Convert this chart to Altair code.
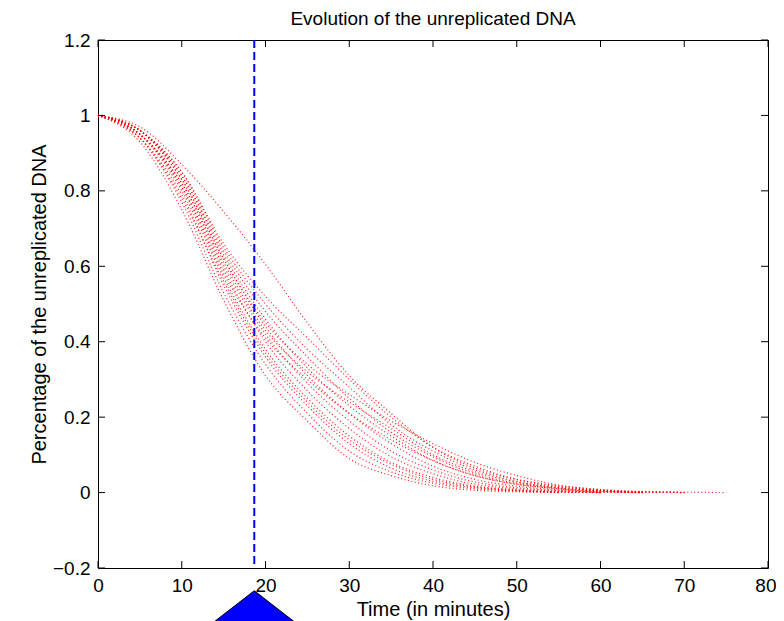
import altair as alt
import pandas as pd

# ---- data ----
TIMES = [0, 5, 10, 15, 20, 25, 30, 35, 40, 45, 50, 55, 60, 65, 70, 75]
C1 = [1, 0.93, 0.75, 0.51, 0.31, 0.19, 0.09, 0.045, 0.018, 0.006, 0.002, 0]
C2 = [1, 0.94, 0.77, 0.53, 0.34, 0.21, 0.11, 0.055, 0.025, 0.01, 0.004, 0.001, 0]
C3 = [1, 0.94, 0.79, 0.55, 0.36, 0.23, 0.13, 0.065, 0.03, 0.013, 0.005, 0.002, 0]
C4 = [1, 0.95, 0.80, 0.57, 0.38, 0.25, 0.15, 0.08, 0.04, 0.017, 0.007, 0.002, 0]
C5 = [1, 0.95, 0.81, 0.59, 0.40, 0.27, 0.17, 0.095, 0.05, 0.022, 0.01, 0.004, 0.001, 0]
C6 = [1, 0.95, 0.82, 0.60, 0.42, 0.29, 0.19, 0.11, 0.06, 0.028, 0.013, 0.005, 0.002, 0]
C7 = [1, 0.96, 0.83, 0.62, 0.44, 0.31, 0.21, 0.13, 0.07, 0.035, 0.017, 0.007, 0.003, 0.001, 0]
C8 = [1, 0.96, 0.84, 0.63, 0.46, 0.33, 0.23, 0.15, 0.085, 0.045, 0.022, 0.01, 0.004, 0.002, 0.001, 0]
C9 = [1, 0.96, 0.84, 0.64, 0.48, 0.36, 0.25, 0.16, 0.095, 0.05, 0.025, 0.012, 0.005, 0]
C10 = [1, 0.96, 0.85, 0.65, 0.50, 0.38, 0.28, 0.18, 0.11, 0.06, 0.03, 0.014, 0.006, 0.002, 0]
C11 = [1, 0.97, 0.87, 0.745, 0.605, 0.45, 0.31, 0.21, 0.12, 0.065, 0.035, 0.018, 0.008, 0]
C12 = [1, 0.96, 0.85, 0.66, 0.52, 0.41, 0.30, 0.20, 0.12, 0.07, 0.035, 0.016, 0.006, 0]
C13 = [1, 0.95, 0.81, 0.58, 0.41, 0.30, 0.21, 0.14, 0.085, 0.045, 0.022, 0.01, 0]
C14 = [1, 0.94, 0.78, 0.56, 0.37, 0.24, 0.14, 0.075, 0.035, 0.015, 0.006, 0]
C15 = [1, 0.95, 0.82, 0.61, 0.43, 0.32, 0.24, 0.17, 0.10, 0.055, 0.028, 0.012, 0.004, 0]
C16 = [1, 0.96, 0.83, 0.62, 0.45, 0.34, 0.26, 0.19, 0.13, 0.08, 0.045, 0.02, 0.008, 0.003, 0]
CURVES = [C1, C2, C3, C4, C5, C6, C7, C8, C9, C10, C11, C12, C13, C14, C15, C16]

X_TICKS = [0, 10, 20, 30, 40, 50, 60, 70, 80]
Y_TICKS = [-0.2, 0, 0.2, 0.4, 0.6, 0.8, 1, 1.2]
MARKER_TIME = [18.66]
MARKER_LEVEL = [-0.2602]

TITLE = "Evolution of the unreplicated DNA"
XTITLE = "Time (in minutes)"
YTITLE = "Percentage of the unreplicated DNA"

FONT = "Liberation Sans"

rows = []
for i, c in enumerate(CURVES):
    for t, v in zip(TIMES, c):
        rows.append({"run": i, "t": t, "v": v})
df = pd.DataFrame(rows)

xs = alt.Scale(domain=[0, 80], nice=False, zero=False)
ys = alt.Scale(domain=[-0.2, 1.2], nice=False, zero=False)

W, H = 670, 528

XAX = alt.Axis(
    values=X_TICKS, format="d", ticks=False, domain=False, grid=False,
    labelFont=FONT, labelFontSize=19, labelColor="black", labelPadding=8,
    labelFlush=False,
    labelAlign={"condition": {"test": "datum.value == 80", "value": "right"},
                "value": "center"},
    labelOffset={"condition": {"test": "datum.value == 80", "value": 8},
                 "value": 0},
    title=XTITLE, titleFont=FONT, titleFontSize=20, titleFontWeight="normal",
    titleColor="black", titleX=W / 2, titleY=47, titleBaseline="alphabetic",
    titleAlign="center")
YAX = alt.Axis(
    values=Y_TICKS, format="~g", ticks=False, domain=False, grid=False,
    labelFont=FONT, labelFontSize=19, labelColor="black", labelPadding=8,
    labelFlush=False,
    title=YTITLE, titleFont=FONT, titleFontSize=20, titleFontWeight="normal",
    titleColor="black", titleX=-59, titleY=H / 2, titleAngle=270,
    titleBaseline="middle", titleAlign="center")


def X(f="t"):
    return alt.X(f + ":Q", scale=xs, axis=XAX)


def Y(f="v"):
    return alt.Y(f + ":Q", scale=ys, axis=YAX)


lines = alt.Chart(df).mark_line(
    color="#ff0000", strokeWidth=1.2, strokeDash=[1, 2.5], opacity=0.9,
    interpolate="monotone"
).encode(x=X(), y=Y(), detail="run:N")

xt = pd.DataFrame({"t": X_TICKS})
yt = pd.DataFrame({"v": Y_TICKS})

xtick_b = alt.Chart(xt).mark_rule(color="black", strokeWidth=1).encode(
    x=X(), y=alt.value(H), y2=alt.value(H - 7))
xtick_t = alt.Chart(xt).mark_rule(color="black", strokeWidth=1).encode(
    x=X(), y=alt.value(0), y2=alt.value(7))
ytick_l = alt.Chart(yt).mark_rule(color="black", strokeWidth=1).encode(
    y=Y(), x=alt.value(0), x2=alt.value(7))
ytick_r = alt.Chart(yt).mark_rule(color="black", strokeWidth=1).encode(
    y=Y(), x=alt.value(W), x2=alt.value(W - 7))

mk = pd.DataFrame({"t": MARKER_TIME, "v": MARKER_LEVEL})
vline = alt.Chart(mk).mark_rule(color="#0000ff", strokeWidth=2, strokeDash=[8, 4]).encode(
    x=X())
tri = alt.Chart(mk).mark_point(
    shape="M0,0L-1.29,1L1.29,1Z", size=6400, filled=True, fill="#0000ff",
    stroke="black", strokeWidth=1, opacity=1, clip=False
).encode(x=X(), y=Y())

chart = alt.layer(lines, vline, xtick_b, xtick_t, ytick_l, ytick_r, tri).properties(
    width=W, height=H,
    title=alt.TitleParams(TITLE, font=FONT, fontSize=19, fontWeight="normal",
                          color="black", anchor="middle", frame="group",
                          offset=2),
    padding={"left": 90, "top": 32, "right": 8, "bottom": 53},
    autosize=alt.AutoSizeParams(type="none"),
    background="white",
).configure_view(stroke="black", strokeWidth=1)

chart.save("out.html", embed_options={"renderer": "svg", "actions": False})
